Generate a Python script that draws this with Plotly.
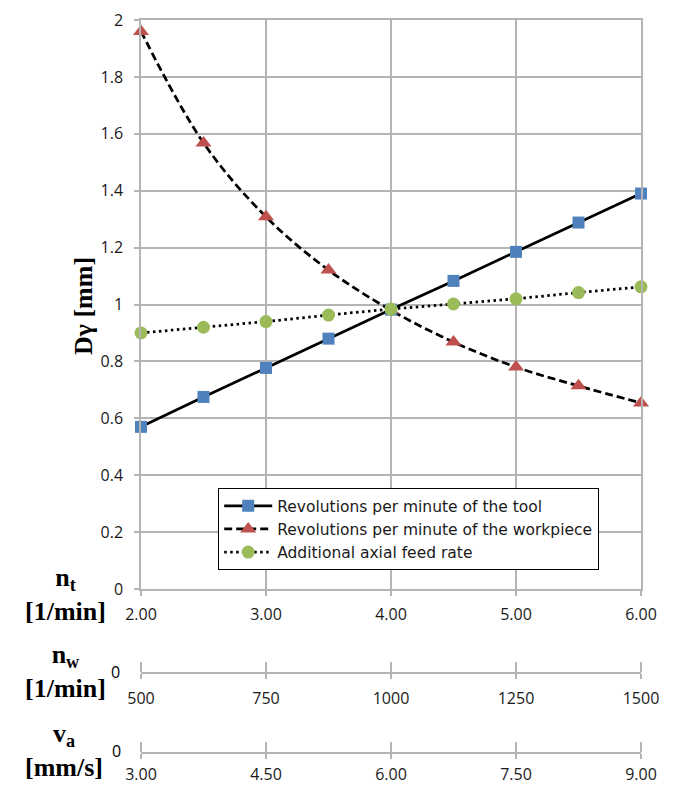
import plotly.graph_objects as go

# ---------------- data ----------------
nt_vals = [2.0, 2.5, 3.0, 3.5, 4.0, 4.5, 5.0, 5.5, 6.0]
tool = [0.57, 0.675, 0.777, 0.88, 0.982, 1.083, 1.185, 1.288, 1.39]
workpiece = [1.96, 1.568, 1.308, 1.121, 0.98, 0.868, 0.78, 0.714, 0.654]
feed = [0.90, 0.92, 0.94, 0.963, 0.984, 1.002, 1.02, 1.042, 1.062]

nt_ticks = [2.0, 3.0, 4.0, 5.0, 6.0]
nw_ticks = [500, 750, 1000, 1250, 1500]
va_ticks = [3.0, 4.5, 6.0, 7.5, 9.0]

name_tool = "Revolutions per minute of the tool"
name_work = "Revolutions per minute of the workpiece"
name_feed = "Additional axial feed rate"

# ---------------- layout helpers (pixels -> paper) ----------------
W, H = 675, 786
ML, MR, MT, MB = 141, 34, 20, 14
PW = W - ML - MR
PH = H - MT - MB


def px(xp):
    return (xp - ML) / PW


def py(yp):
    return (H - MB - yp) / PH


GRID = "#B4B4B4"
TXT = "#1a1a1a"
TICKFONT = dict(family="Open Sans", size=16, color=TXT)
SERIF = "Liberation Serif"

fig = go.Figure()

fig.add_trace(go.Scatter(
    x=nt_vals, y=workpiece, name=name_work, mode="lines+markers",
    line=dict(color="black", width=2.75, dash="8px,4px", shape="spline"),
    marker=dict(symbol="triangle-up", size=14, color="#C0504D"),
    legendrank=2, hoverinfo="skip", cliponaxis=False))
fig.add_trace(go.Scatter(
    x=nt_vals, y=tool, name=name_tool, mode="lines+markers",
    line=dict(color="black", width=2.75),
    marker=dict(symbol="square", size=12, color="#4F81BD"),
    legendrank=1, hoverinfo="skip", cliponaxis=False))
fig.add_trace(go.Scatter(
    x=nt_vals, y=feed, name=name_feed, mode="lines+markers",
    line=dict(color="black", width=2.75, dash="2.5px,3.5px"),
    marker=dict(symbol="circle", size=13, color="#9BBB59"),
    legendrank=3, hoverinfo="skip", cliponaxis=False))

# invisible traces to activate the secondary scales
fig.add_trace(go.Scatter(x=nw_ticks, y=[None] * len(nw_ticks), xaxis="x2", yaxis="y",
                         showlegend=False, hoverinfo="skip", mode="markers"))
fig.add_trace(go.Scatter(x=va_ticks, y=[None] * len(va_ticks), xaxis="x3", yaxis="y",
                         showlegend=False, hoverinfo="skip", mode="markers"))

sec_axis = dict(
    anchor="free", overlaying="x", showgrid=False, zeroline=False,
    showline=True, linecolor=GRID, linewidth=1.5,
    ticks="outside", ticklen=5, tickcolor=GRID, tickwidth=1.5,
    tickfont=TICKFONT, ticklabelstandoff=6,
    minor=dict(ticks="inside", ticklen=10, tickcolor=GRID, tickwidth=1.5),
    tickmode="array", automargin=False,
)

fig.update_layout(
    width=W, height=H,
    margin=dict(l=ML, r=MR, t=MT, b=MB),
    paper_bgcolor="white", plot_bgcolor="white",
    showlegend=True,
    xaxis=dict(
        range=[nt_vals[0], nt_vals[-1]], domain=[0, 1],
        tickmode="array", tickvals=nt_ticks, tickformat=".2f",
        showgrid=True, gridcolor=GRID, gridwidth=1.5,
        showline=True, linecolor=GRID, linewidth=1.5, mirror=True,
        ticks="outside", ticklen=5, tickcolor=GRID, tickwidth=1.5,
        tickfont=TICKFONT, ticklabelstandoff=5, zeroline=False, automargin=False,
    ),
    yaxis=dict(
        range=[0, 2], domain=[py(589), 1],
        tickmode="linear", tick0=0, dtick=0.2,
        showgrid=True, gridcolor=GRID, gridwidth=1.5,
        showline=True, linecolor=GRID, linewidth=1.5, mirror=True,
        ticks="outside", ticklen=5, tickcolor=GRID, tickwidth=1.5,
        tickfont=TICKFONT, ticklabelstandoff=8, zeroline=False, automargin=False,
    ),
    xaxis2=dict(sec_axis, range=[nw_ticks[0], nw_ticks[-1]], position=py(673),
                tickvals=nw_ticks, tickformat=".0f",
                minor=dict(sec_axis["minor"], tickmode="array",
                           tickvals=[v + 0.01 for v in nw_ticks])),
    xaxis3=dict(sec_axis, range=[va_ticks[0], va_ticks[-1]], position=py(753),
                tickvals=va_ticks, tickformat=".2f", ticklabelstandoff=2,
                minor=dict(sec_axis["minor"], tickmode="array",
                           tickvals=[v + 0.0001 for v in va_ticks])),
    legend=dict(
        x=px(218), y=py(488), xanchor="left", yanchor="top",
        bgcolor="white", bordercolor="black", borderwidth=1.2,
        font=dict(family="DejaVu Sans", size=15.5, color=TXT),
        itemwidth=48, tracegroupgap=0,
    ),
)

ann = []


def label(text, xp, yp, size=26, angle=0, family=SERIF, bold=True):
    ann.append(dict(
        text=("<b>%s</b>" % text) if bold else text,
        x=px(xp), y=py(yp), xref="paper", yref="paper",
        xanchor="center", yanchor="middle", showarrow=False, textangle=angle,
        font=dict(family=family, size=size, color="black")))


label("Dγ [mm]", 83, 306, angle=-90)
label("n<sub>t</sub><br>[1/min]", 65, 594)
label("n<sub>w</sub><br>[1/min]", 65, 671)
label("v<sub>a</sub><br>[mm/s]", 64, 750)
label("0", 115, 672, size=16, family="Open Sans", bold=False)
label("0", 116, 751, size=16, family="Open Sans", bold=False)

fig.update_layout(annotations=ann)

fig.write_html("out.html", config={"displayModeBar": False},
               post_script="document.body.style.margin='0';document.body.style.overflow='hidden';")
